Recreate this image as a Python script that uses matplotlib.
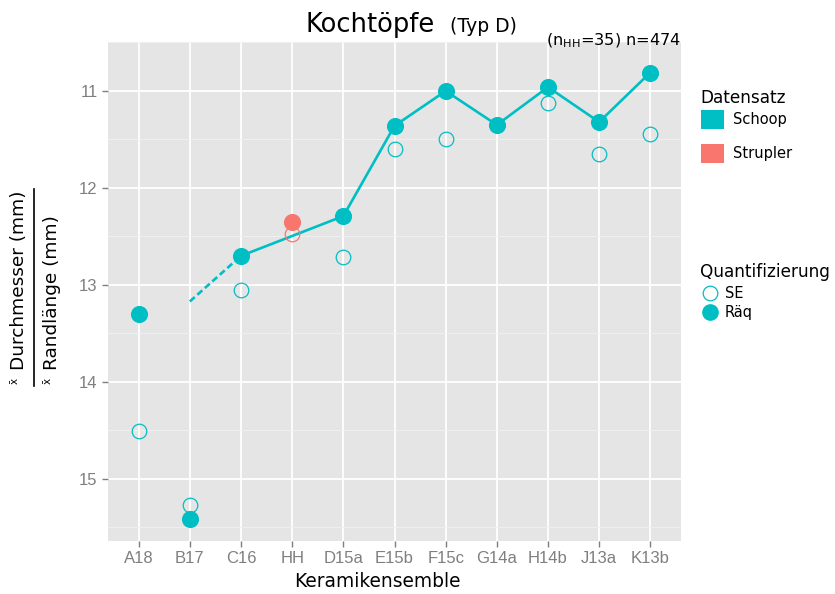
import numpy as np
import matplotlib
matplotlib.use("Agg")
from matplotlib import pyplot as plt
from matplotlib.lines import Line2D
from matplotlib.patches import Patch

# Daten
kategorien = ['A18', 'B17', 'C16', 'HH', 'D15a', 'E15b', 'F15c', 'G14a', 'H14b', 'J13a', 'K13b']
schoop_raeq = [13.30, 15.41, 12.70, np.nan, 12.29, 11.36, 11.00, 11.35, 10.96, 11.32, 10.81]
schoop_se = [14.51, 15.27, 13.05, np.nan, 12.71, 11.60, 11.49, 11.35, 11.12, 11.65, 11.44]
strupler_kat = ['HH']
strupler_raeq = [12.35]
strupler_se = [12.47]
# Verbindungslinie (ohne HH) und gestrichelter Anschluss
linie_kat = ['C16', 'D15a', 'E15b', 'F15c', 'G14a', 'H14b', 'J13a', 'K13b']
strich_kat = ['B17', 'C16']
strich_werte = [13.17, 12.70]

schoop_farbe = '#00BFC4'
strupler_farbe = '#F8766D'
grau = '#7F7F7F'

idx = {k: i for i, k in enumerate(kategorien)}
x = np.arange(len(kategorien))

fig = plt.figure(figsize=(8.35, 5.94), dpi=100)
ax = fig.add_axes([108/835, 1-541/594, (681-108)/835, (541-42)/594])
ax.set_facecolor('#E5E5E5')
for s in ax.spines.values():
    s.set_visible(False)

# Gitter
ax.set_yticks([11, 12, 13, 14, 15])
ax.set_yticks([10.5, 11.5, 12.5, 13.5, 14.5, 15.5], minor=True)
ax.set_xticks(x)
ax.set_xticklabels(kategorien)
ax.grid(True, which='major', color='white', lw=1.3)
ax.grid(True, which='minor', axis='y', color='#F2F2F2', lw=0.6)
ax.set_axisbelow(True)
ax.tick_params(which='major', length=4.5, width=1, color=grau, labelcolor=grau, pad=3)
ax.tick_params(which='minor', length=0)
for t in ax.get_xticklabels() + ax.get_yticklabels():
    t.set_fontfamily('Liberation Sans')
    t.set_fontsize(12)

# Linien
lx = [idx[k] for k in linie_kat]
ly = [schoop_raeq[idx[k]] for k in linie_kat]
ax.plot(lx, ly, color=schoop_farbe, lw=1.9, zorder=2)
ax.plot([idx[k] for k in strich_kat], strich_werte, color=schoop_farbe, lw=1.9,
        ls=(0, (2.5, 1.3)), zorder=2)

# Punkte
ax.plot(x, schoop_se, 'o', ms=10.5, mfc='none', mec=schoop_farbe, mew=0.9, zorder=3)
sx = [idx[k] for k in strupler_kat]
ax.plot(sx, strupler_se, 'o', ms=10.5, mfc='none', mec=strupler_farbe, mew=0.9, zorder=3)
ax.plot(x, schoop_raeq, 'o', ms=11.3, color=schoop_farbe, mec=schoop_farbe, zorder=4)
ax.plot(sx, strupler_raeq, 'o', ms=11.3, color=strupler_farbe, mec=strupler_farbe, zorder=4)

ax.set_xlim(-0.6, len(kategorien) - 0.4)
ax.set_ylim(15.64, 10.495)

ax.set_xlabel('Keramikensemble', fontsize=13.4)
ax.xaxis.set_label_coords(0.47, -0.062)

# Titel
fig.text(305/835, 1-32/594, 'Kochtöpfe', fontsize=18.5, ha='left', va='baseline')
fig.text(450/835, 1-32/594, '(Typ D)', fontsize=13.5, ha='left', va='baseline')
fig.text(681/835, 1-45/594, r'(n$_{\mathregular{HH}}$=35) n=474', fontsize=11.6,
         ha='right', va='baseline')

# y-Beschriftung als Bruch
fig.text(19/835, 1-370/594, 'Durchmesser (mm)', rotation=90, fontsize=13.3,
         ha='center', va='bottom')
fig.text(15/835, 1-384/594, 'x̄', rotation=90, fontsize=7.5, ha='center', va='bottom')
fig.add_artist(Line2D([34/835, 34/835], [1-189/594, 1-386/594], color='black',
                      lw=1.2, transform=fig.transFigure))
fig.text(52/835, 1-370/594, 'Randlänge (mm)', rotation=90, fontsize=13.3,
         ha='center', va='bottom')
fig.text(48/835, 1-384/594, 'x̄', rotation=90, fontsize=7.5, ha='center', va='bottom')

# Legenden
fig.text(700/835, 1-103/594, 'Datensatz', fontsize=12.2, ha='left', va='baseline')
h1 = [Patch(facecolor=schoop_farbe, edgecolor='none'),
      Patch(facecolor=strupler_farbe, edgecolor='none')]
fig.legend(h1, ['Schoop', 'Strupler'], loc='upper left',
           bbox_to_anchor=(701/835, 1-110/594), frameon=False, fontsize=10.5,
           handlelength=1.58, handleheight=1.6, labelspacing=1.05,
           handletextpad=0.6, borderpad=0, borderaxespad=0)
fig.text(700/835, 1-277/594, 'Quantifizierung', fontsize=12.2, ha='left', va='baseline')
h2 = [Line2D([], [], marker='o', ls='none', ms=10.5, mfc='none', mec=schoop_farbe, mew=0.9),
      Line2D([], [], marker='o', ls='none', ms=11, color=schoop_farbe)]
fig.legend(h2, ['SE', 'Räq'], loc='upper left',
           bbox_to_anchor=(701/835, 1-286/594), frameon=False, fontsize=10.5,
           handlelength=1.2, labelspacing=0.3, handletextpad=0.45,
           borderpad=0, borderaxespad=0)

fig.savefig('out.png', dpi=100)
